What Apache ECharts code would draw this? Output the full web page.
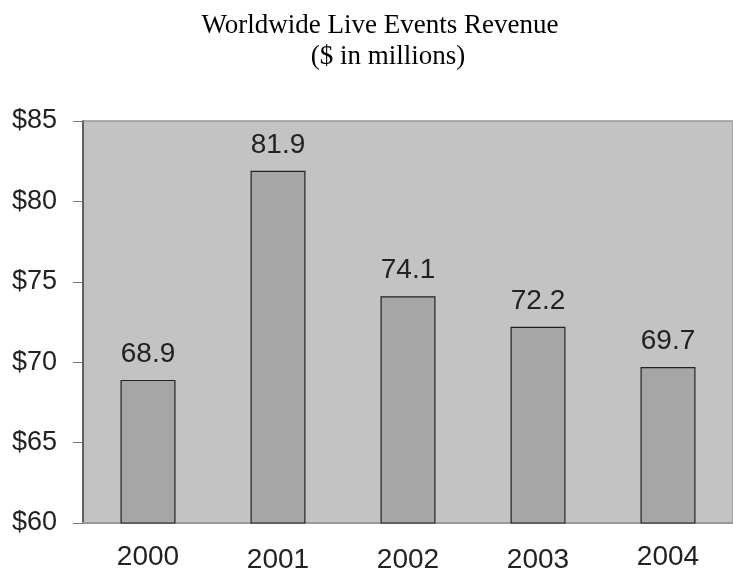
<!DOCTYPE html>
<html>
<head>
<meta charset="utf-8">
<script src="https://cdn.jsdelivr.net/npm/echarts@6/dist/echarts.min.js"></script>
<style>
html,body{margin:0;padding:0;background:#fff;}
#main{width:733px;height:574px;}
</style>
</head>
<body>
<div id="main"></div>
<script>
var years = ['2000', '2001', '2002', '2003', '2004'];
var revenue = [68.9, 81.9, 74.1, 72.2, 69.7];

var myChart = echarts.init(document.getElementById('main'));

// labels for 2001-2003 sit a little lower in the original
var yearLabels = years.map(function (y, i) {
    return (i >= 1 && i <= 3) ? { value: y, textStyle: { padding: [3, 0, 0, 0] } } : y;
});

var titleFont = {
    fontFamily: 'Liberation Serif',
    fontWeight: 'normal',
    fontSize: 27,
    color: '#000'
};

var option = {
    animation: false,
    backgroundColor: '#ffffff',
    title: [
        { text: 'Worldwide Live Events Revenue', left: 375, textAlign: 'center', top: 7, textStyle: titleFont },
        { text: '($ in millions)', left: 383, textAlign: 'center', top: 38, textStyle: titleFont }
    ],
    grid: {
        left: 83,
        right: -8,
        top: 121,
        bottom: 49,
        show: true,
        backgroundColor: '#c3c3c3',
        borderColor: '#999',
        borderWidth: 1.5
    },
    xAxis: {
        type: 'category',
        data: yearLabels,
        axisLine: { lineStyle: { color: '#999', width: 2 } },
        axisTick: { show: false },
        axisLabel: {
            fontFamily: 'Liberation Sans',
            fontSize: 28,
            color: '#222',
            margin: 20
        }
    },
    yAxis: {
        type: 'value',
        min: 60,
        max: 85,
        interval: 5,
        splitLine: { show: false },
        axisLine: { show: true, lineStyle: { color: '#444', width: 1.5 } },
        axisTick: { show: true, length: 10, lineStyle: { color: '#777' } },
        axisLabel: {
            fontFamily: 'Liberation Sans',
            fontSize: 27,
            color: '#222',
            margin: 26,
            formatter: function (v) { return '$' + v; }
        }
    },
    series: [
        {
            name: 'Revenue',
            type: 'bar',
            data: revenue,
            barWidth: 55,
            itemStyle: {
                color: '#a6a6a6',
                borderColor: '#222',
                borderWidth: 1.2
            },
            label: {
                show: true,
                position: 'top',
                distance: 12,
                fontFamily: 'Liberation Sans',
                fontSize: 28,
                color: '#222',
                formatter: function (p) { return p.value.toFixed(1); }
            }
        }
    ]
};

myChart.setOption(option);
</script>
</body>
</html>
